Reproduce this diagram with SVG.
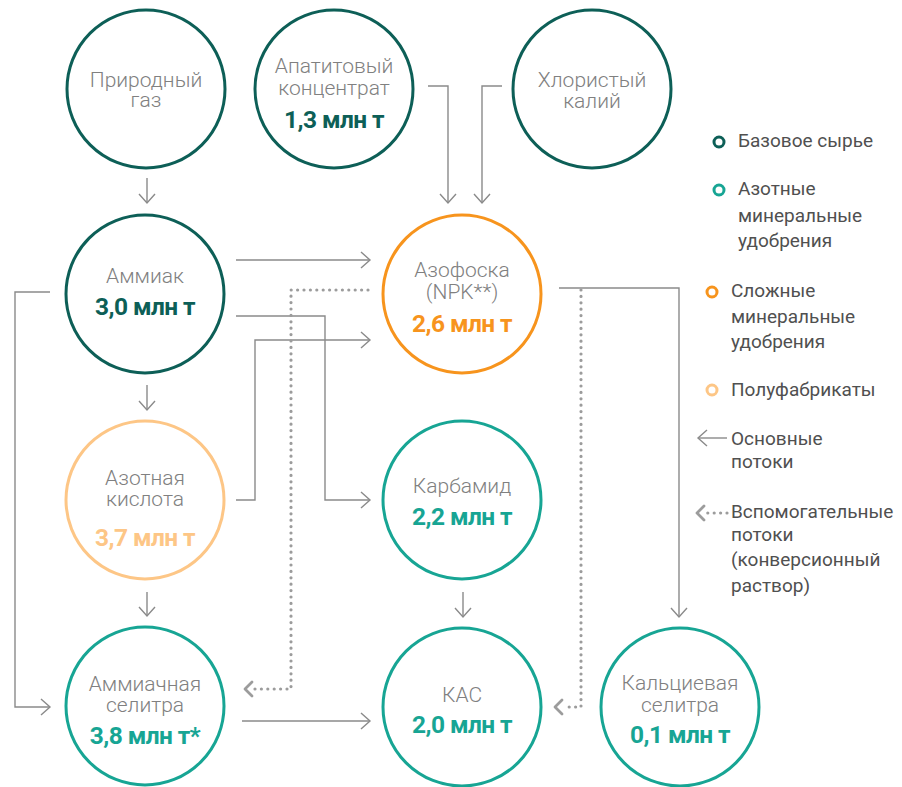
<svg xmlns="http://www.w3.org/2000/svg" width="902" height="787" viewBox="0 0 902 787">
<style>
text{font-family:Roboto,"Noto Sans","Liberation Sans",sans-serif}
.lbl{font-size:21px;fill:#808080;font-weight:300;text-anchor:middle}
.num{font-size:24.5px;font-weight:700;text-anchor:middle;letter-spacing:-0.6px}
.leg{font-size:19px;fill:#505050;font-weight:400}
.c{fill:#fff;stroke-width:3}
.base{stroke:#0d5f57}
.nitro{stroke:#17a594}
.comp{stroke:#f7941d}
.semi{stroke:#fdc686}
.tbase{fill:#0d5f57}.tnitro{fill:#17a594}.tcomp{fill:#f7941d}.tsemi{fill:#fdc686}
.ln{fill:none;stroke:#8a8a8a;stroke-width:1.4;marker-end:url(#arr)}
.dt{fill:none;stroke:#9c9c9c;stroke-width:3.2;stroke-linecap:round;stroke-dasharray:0 6.4;marker-end:url(#darr)}
.lc{fill:#fff;stroke-width:3}
</style>
<defs>
<marker id="arr" markerUnits="userSpaceOnUse" markerWidth="20" markerHeight="20" viewBox="-12 -10 14 20" refX="0" refY="0" orient="auto">
<path d="M-9,-8 L0,0 L-9,8" fill="none" stroke="#8a8a8a" stroke-width="1.4"/>
</marker>
<marker id="darr" markerUnits="userSpaceOnUse" markerWidth="20" markerHeight="20" viewBox="-2 -10 14 20" refX="0" refY="0" orient="auto">
<path d="M2,-7 L9,0 L2,7" fill="none" stroke="#9c9c9c" stroke-width="2.8" stroke-linecap="round" stroke-linejoin="round"/>
</marker>
</defs>
<rect width="902" height="787" fill="#fff"/>
<g id="connectors">
<path class="ln" d="M147,178 V203"/>
<path class="ln" d="M428,86 H448 V203"/>
<path class="ln" d="M502,86 H482 V203"/>
<path class="ln" d="M236,260 H370"/>
<path class="ln" d="M236,316 H325 V500 H370"/>
<path class="ln" d="M236,500 H255 V340 H370"/>
<path class="ln" d="M147,385 V410"/>
<path class="ln" d="M50,292 H15 V707 H50"/>
<path class="ln" d="M147,592 V616"/>
<path class="ln" d="M242,721 H370"/>
<path class="ln" d="M463,592 V617"/>
<path class="ln" d="M559,288 H679 V617"/>
<path class="dt" d="M368,290 H291 V689 H254"/>
<path class="dt" d="M581,290 V707 H564"/>
</g>
<g id="n-gas">
<circle class="c base" cx="146" cy="89" r="79"/>
<text class="lbl" x="146" y="87">Природный</text>
<text class="lbl" x="146" y="107">газ</text>
</g>
<g id="n-apatite">
<circle class="c base" cx="334" cy="89" r="79"/>
<text class="lbl" x="334" y="73">Апатитовый</text>
<text class="lbl" x="334" y="95">концентрат</text>
<text class="num tbase" x="334" y="128">1,3 млн т</text>
</g>
<g id="n-kcl">
<circle class="c base" cx="592" cy="89" r="79"/>
<text class="lbl" x="592" y="87">Хлористый</text>
<text class="lbl" x="592" y="108">калий</text>
</g>
<g id="n-ammonia">
<circle class="c base" cx="145" cy="294" r="79"/>
<text class="lbl" x="145" y="283">Аммиак</text>
<text class="num tbase" x="145" y="315">3,0 млн т</text>
</g>
<g id="n-azofoska">
<circle class="c comp" cx="462" cy="294" r="79"/>
<text class="lbl" x="462" y="277">Азофоска</text>
<text class="lbl" x="462" y="299">(NPK**)</text>
<text class="num tcomp" x="462" y="332">2,6 млн т</text>
</g>
<g id="n-nitric">
<circle class="c semi" cx="145" cy="500" r="79"/>
<text class="lbl" x="145" y="485">Азотная</text>
<text class="lbl" x="145" y="506">кислота</text>
<text class="num tsemi" x="145" y="546">3,7 млн т</text>
</g>
<g id="n-urea">
<circle class="c nitro" cx="462" cy="500" r="79"/>
<text class="lbl" x="462" y="493">Карбамид</text>
<text class="num tnitro" x="462" y="525">2,2 млн т</text>
</g>
<g id="n-an">
<circle class="c nitro" cx="145" cy="706" r="79"/>
<text class="lbl" x="145" y="691">Аммиачная</text>
<text class="lbl" x="145" y="712">селитра</text>
<text class="num tnitro" x="145" y="744">3,8 млн т*</text>
</g>
<g id="n-uan">
<circle class="c nitro" cx="462" cy="707" r="79"/>
<text class="lbl" x="462" y="702">КАС</text>
<text class="num tnitro" x="462" y="733">2,0 млн т</text>
</g>
<g id="n-can">
<circle class="c nitro" cx="680" cy="707" r="79"/>
<text class="lbl" x="680" y="690">Кальциевая</text>
<text class="lbl" x="680" y="712">селитра</text>
<text class="num tnitro" x="680" y="743">0,1 млн т</text>
</g>
<g id="legend">
<circle class="lc base" cx="719" cy="142" r="5"/>
<text class="leg" x="738" y="147">Базовое сырье</text>
<circle class="lc nitro" cx="719" cy="190" r="5"/>
<text class="leg" x="738" y="195">Азотные</text>
<text class="leg" x="738" y="222">минеральные</text>
<text class="leg" x="738" y="247">удобрения</text>
<circle class="lc comp" cx="712" cy="292" r="5"/>
<text class="leg" x="731" y="297">Сложные</text>
<text class="leg" x="731" y="323">минеральные</text>
<text class="leg" x="731" y="348">удобрения</text>
<circle class="lc semi" cx="712" cy="390" r="5"/>
<text class="leg" x="731" y="396">Полуфабрикаты</text>
<path class="ln" d="M727,438 H698"/>
<text class="leg" x="731" y="445">Основные</text>
<text class="leg" x="731" y="468">потоки</text>
<path class="dt" d="M727,513 H706"/>
<text class="leg" x="731" y="518">Вспомогательные</text>
<text class="leg" x="731" y="541">потоки</text>
<text class="leg" x="731" y="566">(конверсионный</text>
<text class="leg" x="731" y="592">раствор)</text>
</g>
</svg>
